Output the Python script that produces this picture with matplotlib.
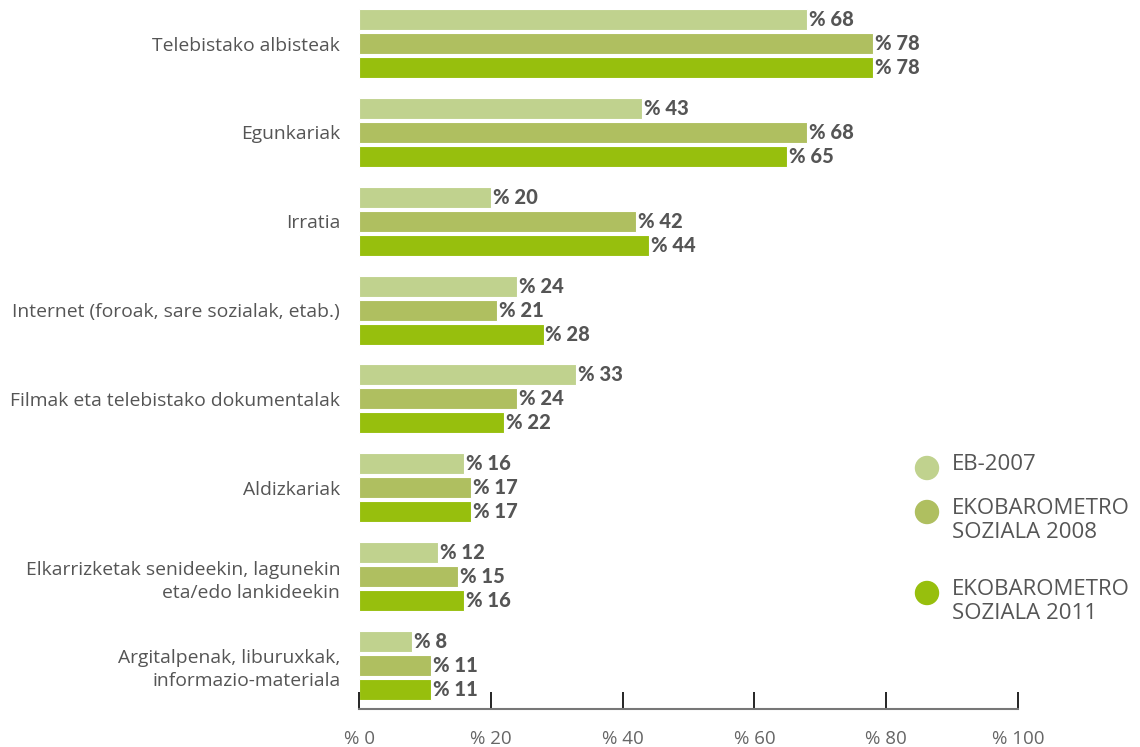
import matplotlib
matplotlib.use("Agg")
import matplotlib.pyplot as plt
import numpy as np

categories = [
    "Telebistako albisteak",
    "Egunkariak",
    "Irratia",
    "Internet (foroak, sare sozialak, etab.)",
    "Filmak eta telebistako dokumentalak",
    "Aldizkariak",
    "Elkarrizketak senideekin, lagunekin\neta/edo lankideekin",
    "Argitalpenak, liburuxkak,\ninformazio-materiala",
]
series_names = ["EB-2007", "EKOBAROMETRO\nSOZIALA 2008", "EKOBAROMETRO\nSOZIALA 2011"]
eb2007 = [68, 43, 20, 24, 33, 16, 12, 8]
eko2008 = [78, 68, 42, 21, 24, 17, 15, 11]
eko2011 = [78, 65, 44, 28, 22, 17, 16, 11]
x_ticks = [0, 20, 40, 60, 80, 100]
x_ticklabels = ["% 0", "% 20", "% 40", "% 60", "% 80", "% 100"]

colors = ["#c0d28e", "#afbf60", "#97bf0d"]
text_grey = "#555555"

fig = plt.figure(figsize=(11.4, 7.47), dpi=100)
ax = fig.add_axes([359 / 1140, 1 - 709 / 747, (1018 - 359) / 1140, 709 / 747])

y = np.arange(len(categories))
step = 0.27
h = 0.236
for k, vals in enumerate([eb2007, eko2008, eko2011]):
    pos = y + (k - 1) * step
    ax.barh(pos, vals, height=h, color=colors[k], edgecolor="white", linewidth=0.8)
    for p, v in zip(pos, vals):
        ax.text(v + 0.3, p, "% " + str(v), va="center", ha="left",
                fontsize=14.5, fontweight="black", family="Lato", color=text_grey)

ax.set_xlim(0, 100)
ax.set_ylim(len(categories) - 0.51, -0.49)

ax.set_yticks(y)
ax.set_yticklabels(categories, fontsize=13.9, family="Open Sans", color=text_grey,
                   linespacing=1.35)
ax.tick_params(axis="y", length=0, pad=13.5)

ax.set_xticks(x_ticks)
ax.set_xticklabels(x_ticklabels, fontsize=13.5, family="Open Sans", color="#666666")
ax.tick_params(axis="x", direction="in", length=12.5, width=1.2, color="black", pad=15)

for s in ["top", "right", "left"]:
    ax.spines[s].set_visible(False)
ax.spines["bottom"].set_color("#777777")
ax.spines["bottom"].set_linewidth(1.5)

# legend drawn by hand
leg_y = [468, 512, 593]
for k in range(3):
    c = plt.Circle(((927) / 100, (747 - leg_y[k]) / 100), 0.115,
                   transform=fig.dpi_scale_trans, color=colors[k])
    fig.patches.append(c)
    fig.text(952 / 1140, 1 - (leg_y[k] - 14) / 747, series_names[k], ha="left", va="top",
             fontsize=16, family="Open Sans", color=text_grey, linespacing=1.2)

fig.savefig("out.png", dpi=100)
